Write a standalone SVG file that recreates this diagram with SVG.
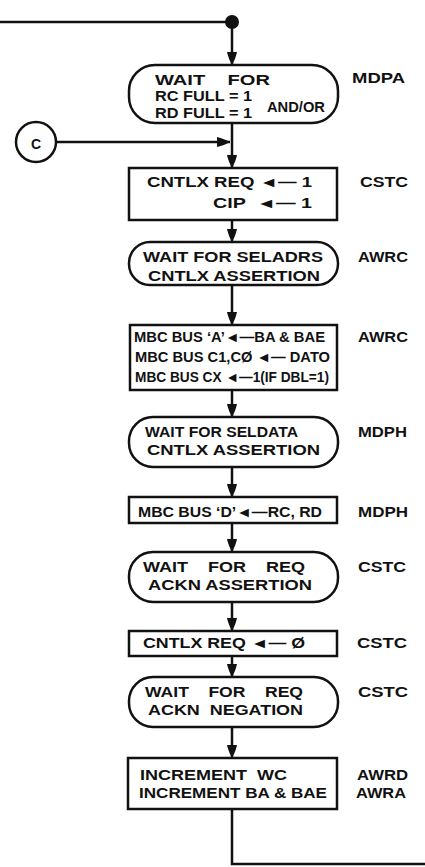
<svg xmlns="http://www.w3.org/2000/svg" width="425" height="867" viewBox="0 0 425 867">
<defs>
<path id="arrD" d="M-5,-13 C-4,-8 -2,-4 0,0 C2,-4 4,-8 5,-13 Z" fill="#111"/>
<path id="arrR" d="M-13,-5 C-8,-4 -4,-2 0,0 C-4,2 -8,4 -13,5 Z" fill="#111"/>
</defs>
<style>
.shape{fill:#fff;stroke:#111;stroke-width:2.5}
.conn{fill:none;stroke:#111;stroke-width:2.5}
text{font-family:"Liberation Sans",Arial,sans-serif;font-weight:bold;font-size:14px;fill:#111;white-space:pre}
</style>
<rect width="425" height="867" fill="#fff"/>
<g id="connectors">
<path class="conn" d="M0,22 H232"/>
<circle cx="232" cy="22" r="7" fill="#111"/>
<path class="conn" d="M232,22 V65"/>
<use href="#arrD" x="232" y="65"/>
<path class="conn" d="M232,123 V168"/>
<use href="#arrD" x="232" y="168"/>
<path class="conn" d="M56,142 H230"/>
<use href="#arrR" x="230" y="142"/>
<path class="conn" d="M232,220 V242"/>
<use href="#arrD" x="232" y="242"/>
<path class="conn" d="M232,285 V325"/>
<use href="#arrD" x="232" y="325"/>
<path class="conn" d="M232,390 V417"/>
<use href="#arrD" x="232" y="417"/>
<path class="conn" d="M232,467 V497"/>
<use href="#arrD" x="232" y="497"/>
<path class="conn" d="M232,523 V552"/>
<use href="#arrD" x="232" y="552"/>
<path class="conn" d="M232,602 V631"/>
<use href="#arrD" x="232" y="631"/>
<path class="conn" d="M232,656 V677"/>
<use href="#arrD" x="232" y="677"/>
<path class="conn" d="M232,727 V758"/>
<use href="#arrD" x="232" y="758"/>
<path class="conn" d="M232,809 V864 H425"/>
</g>
<g id="connC">
<circle class="shape" cx="36" cy="142" r="20"/>
<text x="36" y="149" text-anchor="middle" font-size="20">C</text>
</g>
<g id="n1">
<rect class="shape" x="129" y="65" width="209" height="58" rx="26"/>
<text x="155" y="85" textLength="115" lengthAdjust="spacingAndGlyphs" xml:space="preserve">WAIT    FOR</text>
<text x="155" y="101" textLength="97" lengthAdjust="spacingAndGlyphs" font-size="13">RC FULL = 1</text>
<text x="155" y="118" textLength="97" lengthAdjust="spacingAndGlyphs" font-size="13">RD FULL = 1</text>
<text x="267" y="112" textLength="58" lengthAdjust="spacingAndGlyphs" font-size="12">AND/OR</text>
<text x="352" y="83" textLength="53" lengthAdjust="spacingAndGlyphs">MDPA</text>
</g>
<g id="n2">
<rect class="shape" x="129" y="168" width="208" height="52"/>
<text x="147" y="187" textLength="165" lengthAdjust="spacingAndGlyphs" xml:space="preserve">CNTLX REQ ◄— 1</text>
<text x="213" y="208" textLength="99" lengthAdjust="spacingAndGlyphs" xml:space="preserve">CIP  ◄— 1</text>
<text x="360" y="187" textLength="48" lengthAdjust="spacingAndGlyphs">CSTC</text>
</g>
<g id="n3">
<rect class="shape" x="129" y="242" width="209" height="43" rx="21"/>
<text x="143" y="262" textLength="180" lengthAdjust="spacingAndGlyphs">WAIT FOR SELADRS</text>
<text x="148" y="281" textLength="172" lengthAdjust="spacingAndGlyphs">CNTLX ASSERTION</text>
<text x="358" y="262" textLength="50" lengthAdjust="spacingAndGlyphs">AWRC</text>
</g>
<g id="n4">
<rect class="shape" x="130" y="325" width="207" height="65"/>
<text x="134" y="342" textLength="191" lengthAdjust="spacingAndGlyphs" font-size="13">MBC BUS ‘A’◄—BA &amp; BAE</text>
<text x="135" y="362" textLength="195" lengthAdjust="spacingAndGlyphs" font-size="13">MBC BUS C1,CØ ◄— DATO</text>
<text x="135" y="382" textLength="194" lengthAdjust="spacingAndGlyphs" font-size="13">MBC BUS CX ◄—1(IF DBL=1)</text>
<text x="358" y="342" textLength="50" lengthAdjust="spacingAndGlyphs">AWRC</text>
</g>
<g id="n5">
<rect class="shape" x="129" y="417" width="209" height="50" rx="24"/>
<text x="145" y="437" textLength="153" lengthAdjust="spacingAndGlyphs">WAIT FOR SELDATA</text>
<text x="147" y="455" textLength="173" lengthAdjust="spacingAndGlyphs">CNTLX ASSERTION</text>
<text x="358" y="437" textLength="49" lengthAdjust="spacingAndGlyphs">MDPH</text>
</g>
<g id="n6">
<rect class="shape" x="129" y="497" width="208" height="26"/>
<text x="138" y="517" textLength="184" lengthAdjust="spacingAndGlyphs">MBC BUS ‘D’◄—RC, RD</text>
<text x="358" y="517" textLength="50" lengthAdjust="spacingAndGlyphs">MDPH</text>
</g>
<g id="n7">
<rect class="shape" x="129" y="552" width="209" height="50" rx="24"/>
<text x="143" y="572" textLength="162" lengthAdjust="spacingAndGlyphs" xml:space="preserve">WAIT    FOR    REQ</text>
<text x="148" y="590" textLength="164" lengthAdjust="spacingAndGlyphs">ACKN ASSERTION</text>
<text x="358" y="572" textLength="48" lengthAdjust="spacingAndGlyphs">CSTC</text>
</g>
<g id="n8">
<rect class="shape" x="129" y="631" width="208" height="25"/>
<text x="143" y="648" textLength="162" lengthAdjust="spacingAndGlyphs" xml:space="preserve">CNTLX REQ ◄— Ø</text>
<text x="357" y="648" textLength="50" lengthAdjust="spacingAndGlyphs">CSTC</text>
</g>
<g id="n9">
<rect class="shape" x="129" y="677" width="209" height="50" rx="24"/>
<text x="145" y="697" textLength="158" lengthAdjust="spacingAndGlyphs" xml:space="preserve">WAIT    FOR    REQ</text>
<text x="148" y="715" textLength="155" lengthAdjust="spacingAndGlyphs" xml:space="preserve">ACKN  NEGATION</text>
<text x="358" y="697" textLength="50" lengthAdjust="spacingAndGlyphs">CSTC</text>
</g>
<g id="n10">
<rect class="shape" x="128" y="758" width="209" height="51"/>
<text x="140" y="780" textLength="147" lengthAdjust="spacingAndGlyphs" xml:space="preserve">INCREMENT  WC</text>
<text x="139" y="798" textLength="188" lengthAdjust="spacingAndGlyphs">INCREMENT BA &amp; BAE</text>
<text x="357" y="780" textLength="51" lengthAdjust="spacingAndGlyphs">AWRD</text>
<text x="356" y="798" textLength="50" lengthAdjust="spacingAndGlyphs">AWRA</text>
</g>
</svg>
